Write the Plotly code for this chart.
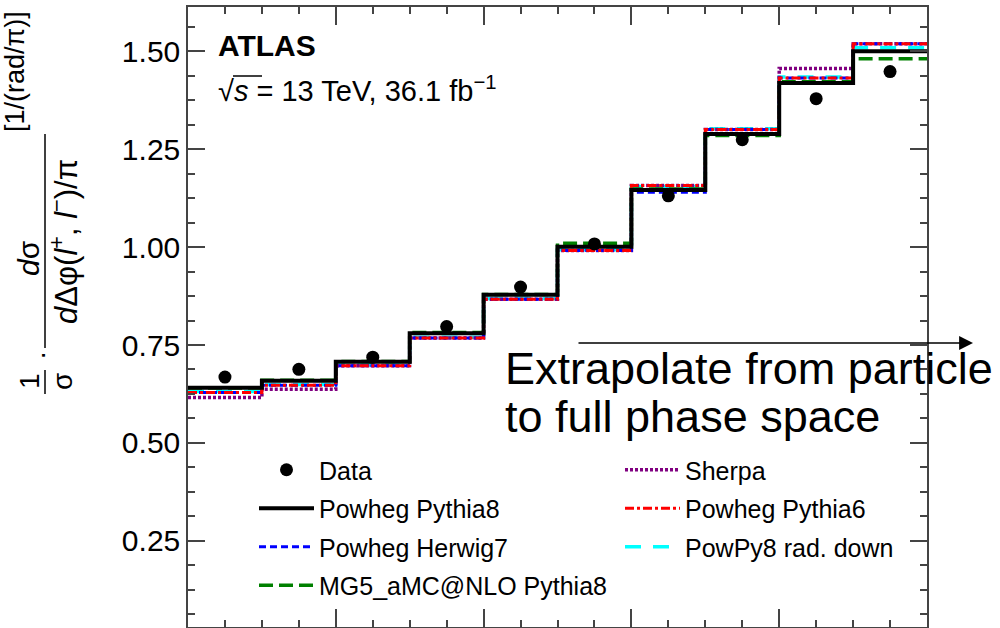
import plotly.graph_objects as go

# ---- data: normalised differential cross-section vs delta-phi(l+, l-)/pi ----
bin_edges = [0.0, 0.1, 0.2, 0.3, 0.4, 0.5, 0.6, 0.7, 0.8, 0.9, 1.0]
bin_centers = [0.05, 0.15, 0.25, 0.35, 0.45, 0.55, 0.65, 0.75, 0.85, 0.95]

data_vals = [0.668, 0.688, 0.719, 0.797, 0.898, 1.008, 1.131, 1.274, 1.379, 1.448]
powheg_pythia8 = [0.641, 0.659, 0.707, 0.780, 0.878, 1.001, 1.146, 1.289, 1.419, 1.500]
powheg_herwig7 = [0.629, 0.647, 0.697, 0.768, 0.867, 0.991, 1.140, 1.300, 1.432, 1.519]
mg5_pythia8 = [0.640, 0.660, 0.708, 0.782, 0.879, 1.010, 1.148, 1.285, 1.422, 1.481]
sherpa = [0.616, 0.637, 0.697, 0.768, 0.867, 0.991, 1.157, 1.300, 1.456, 1.519]
powheg_pythia6 = [0.629, 0.647, 0.697, 0.768, 0.867, 0.991, 1.157, 1.300, 1.432, 1.519]
powpy8_raddown = [0.631, 0.649, 0.699, 0.770, 0.869, 0.993, 1.155, 1.302, 1.434, 1.509]

y_ticks = [0.25, 0.50, 0.75, 1.00, 1.25, 1.50]
y_ticklabels = ["0.25", "0.50", "0.75", "1.00", "1.25", "1.50"]

FONT = "Liberation Sans, Arial, Helvetica, sans-serif"

# ---- page geometry ----
W, H = 1000, 628
ML, MR, MT, MB = 188, 73, 7, 1
PW, PH = W - ML - MR, H - MT - MB


def px(xp):
    """page x pixel -> paper coordinate"""
    return (xp - ML) / PW


def py(yp):
    """page y pixel -> paper coordinate"""
    return (H - MB - yp) / PH


def step_y(vals):
    return list(vals) + [vals[-1]]


fig = go.Figure()

# (name, values, colour, width, dash, legend, rank) in drawing order
mc_models = [
    ("PowPy8 rad. down", powpy8_raddown, "#00ffff", 3.5, "16px,12px", "legend2", 3),
    ("Sherpa", sherpa, "#800080", 3.5, "3px,2px", "legend2", 1),
    ("MG5_aMC@NLO Pythia8", mg5_pythia8, "#008000", 3.5, "14px,6px", "legend", 4),
    ("Powheg Herwig7", powheg_herwig7, "#0000ff", 3, "7px,4px", "legend", 3),
    ("Powheg Pythia6", powheg_pythia6, "#ff0000", 3, "9px,3px,3px,3px", "legend2", 2),
    ("Powheg Pythia8", powheg_pythia8, "#000000", 4, "solid", "legend", 2),
]

for name, vals, col, wdt, dash, leg, rank in mc_models:
    fig.add_trace(go.Scatter(
        x=bin_edges, y=step_y(vals), mode="lines", name=name,
        line=dict(color=col, width=wdt, dash=dash, shape="hv"),
        legend=leg, legendrank=rank, legendgroup=name,
    ))

fig.add_trace(go.Scatter(
    x=bin_centers, y=data_vals, mode="markers", name="Data",
    marker=dict(color="black", size=13, symbol="circle"),
    legend="legend", legendrank=1, legendgroup="Data",
))

axis_common = dict(
    showgrid=False, zeroline=False,
    showline=True, linecolor="#444444", linewidth=1.5, mirror="ticks",
    ticks="inside", tickcolor="#444444", tickwidth=1.5,
)

fig.update_xaxes(
    range=[0, 1], dtick=0.2, tick0=0, ticklen=18, showticklabels=False,
    minor=dict(dtick=0.05, ticklen=7, ticks="inside", tickcolor="#444444", tickwidth=1.5),
    **axis_common,
)
fig.update_yaxes(
    range=[0.03, 1.613], tickvals=y_ticks, ticktext=y_ticklabels, ticklen=17,
    tickfont=dict(family=FONT, size=30, color="black"),
    minor=dict(dtick=0.0625, tick0=0, ticklen=7, ticks="inside", tickcolor="#444444", tickwidth=1.5),
    **axis_common,
)

legend_common = dict(
    orientation="v", bgcolor="rgba(0,0,0,0)", borderwidth=0,
    font=dict(family=FONT, size=25, color="black"),
    itemwidth=55, tracegroupgap=3, xanchor="left", yanchor="top",
    itemclick=False, itemdoubleclick=False,
)

annotations = [
    dict(text="<b>ATLAS</b>", x=px(216), y=py(46), xanchor="left", yanchor="middle",
         font=dict(family=FONT, size=30, color="black")),
    dict(text="√<i>s</i> = 13 TeV, 36.1 fb<sup>−1</sup>", x=px(216), y=py(89),
         xanchor="left", yanchor="middle", font=dict(family=FONT, size=29, color="black")),
    # extrapolation note with arrow
    dict(text="", x=px(973), y=py(343), ax=-396, ay=0, showarrow=True,
         arrowhead=2, arrowsize=1.85, arrowwidth=1.5, arrowcolor="black", standoff=0),
    dict(text="Extrapolate from particle", x=px(503), y=py(368), xanchor="left", yanchor="middle",
         font=dict(family=FONT, size=45, color="black")),
    dict(text="to full phase space", x=px(503), y=py(416), xanchor="left", yanchor="middle",
         font=dict(family=FONT, size=45, color="black")),
    # rotated y-axis title built from pieces
    dict(text="1", x=px(29), y=py(381), textangle=-90, xanchor="center", yanchor="middle",
         font=dict(family=FONT, size=28, color="black")),
    dict(text="σ", x=px(62), y=py(382), textangle=-90, xanchor="center", yanchor="middle",
         font=dict(family=FONT, size=28, color="black")),
    dict(text="·", x=px(41), y=py(356), textangle=-90, xanchor="center", yanchor="middle",
         font=dict(family=FONT, size=28, color="black")),
    dict(text="<i>d</i>σ", x=px(28), y=py(258), textangle=-90, xanchor="center", yanchor="middle",
         font=dict(family=FONT, size=30, color="black")),
    dict(text="<i>d</i>Δφ(<i>l</i><sup>+</sup>, <i>l</i><sup>−</sup>)/π", x=px(64), y=py(241),
         textangle=-90, xanchor="center", yanchor="middle",
         font=dict(family=FONT, size=31, color="black")),
    dict(text="[1/(rad/π)]", x=px(15), y=py(72), textangle=-90, xanchor="center", yanchor="middle",
         font=dict(family=FONT, size=27, color="black")),
]
for a in annotations:
    a.setdefault("xref", "paper")
    a.setdefault("yref", "paper")
    a.setdefault("showarrow", False)
    if a.get("showarrow"):
        a["axref"] = "pixel"
        a["ayref"] = "pixel"

shapes = [
    # fraction bars of the y title
    dict(type="line", xref="paper", yref="paper", x0=px(45), x1=px(45), y0=py(370), y1=py(394),
         line=dict(color="black", width=1.5)),
    dict(type="line", xref="paper", yref="paper", x0=px(45), x1=px(45), y0=py(134), y1=py(348),
         line=dict(color="black", width=1.5)),
    # overline of the square root
    dict(type="line", xref="paper", yref="paper", x0=px(233), x1=px(262), y0=py(76), y1=py(76),
         line=dict(color="black", width=1.5)),
]

fig.update_layout(
    width=W, height=H,
    margin=dict(l=ML, r=MR, t=MT, b=MB, pad=0),
    paper_bgcolor="white", plot_bgcolor="white",
    font=dict(family=FONT, color="black"),
    legend=dict(x=px(254), y=py(447), **legend_common),
    legend2=dict(x=px(620), y=py(447), **legend_common),
    annotations=annotations, shapes=shapes,
    showlegend=True,
)

fig.write_html("out.html")
